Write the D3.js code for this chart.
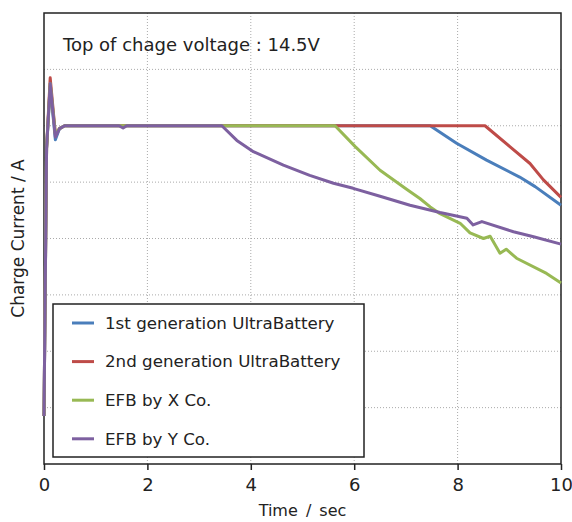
<!DOCTYPE html>
<html>
<head>
<meta charset="utf-8">
<script src="https://cdn.jsdelivr.net/npm/d3@7"></script>
<style>
  body { margin: 0; background: #fff; }
  svg text { font-family: "DejaVu Sans", sans-serif; fill: #222; }
</style>
</head>
<body>
<svg id="chart"></svg>
<script>
var seriesNames = ["1st generation UltraBattery", "2nd generation UltraBattery", "EFB by X Co.", "EFB by Y Co."];
var seriesColors = ["#4a7ebb", "#be4b48", "#98b954", "#7d60a0"];

var xTicks = [0, 2, 4, 6, 8, 10];
var yGrid = [1, 2, 3, 4, 5, 6, 7];

// time (sec) / current
var gen1Time = [0, 0.05, 0.12, 0.22, 0.3, 0.4, 7.47, 7.98, 8.56, 9.2, 9.5, 10];
var gen1Current = [0.85, 5.6, 6.7, 5.75, 5.95, 6, 6, 5.69, 5.39, 5.09, 4.92, 4.59];

var gen2Time = [0, 0.05, 0.12, 0.22, 0.3, 0.4, 8.53, 9.01, 9.4, 9.66, 10];
var gen2Current = [0.85, 5.6, 6.85, 5.85, 5.95, 6, 6, 5.63, 5.33, 5.04, 4.73];

var efbXTime = [0, 0.05, 0.12, 0.22, 0.3, 0.4, 5.63, 6.02, 6.5, 7.02, 7.27, 7.47, 7.66, 8.05, 8.24, 8.5, 8.63, 8.82, 8.94, 9.14, 9.72, 10];
var efbXCurrent = [0.85, 5.6, 6.75, 5.85, 5.95, 6, 6, 5.63, 5.21, 4.87, 4.71, 4.56, 4.44, 4.27, 4.1, 4.0, 4.04, 3.74, 3.81, 3.65, 3.38, 3.21];

var efbYTime = [0, 0.05, 0.12, 0.22, 0.3, 0.4, 1.45, 1.53, 1.6, 3.44, 3.73, 4.05, 4.63, 5.14, 5.6, 5.98, 6.5, 7.08, 7.66, 8.18, 8.3, 8.47, 9.08, 9.47, 10];
var efbYCurrent = [0.85, 5.6, 6.75, 5.8, 5.95, 6, 6, 5.96, 6, 6, 5.74, 5.54, 5.3, 5.12, 4.98, 4.89, 4.75, 4.59, 4.46, 4.36, 4.24, 4.3, 4.12, 4.03, 3.9];

var allTime = [gen1Time, gen2Time, efbXTime, efbYTime];
var allCurrent = [gen1Current, gen2Current, efbXCurrent, efbYCurrent];

var W = 572, H = 522;
var margin = { top: 13, right: 11, bottom: 58, left: 44 };
var width = W - margin.left - margin.right,
    height = H - margin.top - margin.bottom;

var svg = d3.select("#chart").attr("width", W).attr("height", H);
var g = svg.append("g").attr("transform", "translate(" + margin.left + "," + margin.top + ")");

var x = d3.scaleLinear().domain([0, 10]).range([0, width]);
var y = d3.scaleLinear().domain([0, 8]).range([height, 0]);

// grid
g.selectAll(".vgrid").data(xTicks.slice(1, -1)).enter().append("line")
    .attr("x1", d => x(d)).attr("x2", d => x(d))
    .attr("y1", 0).attr("y2", height)
    .attr("stroke", "#aaa").attr("stroke-dasharray", "1,2");
g.selectAll(".hgrid").data(yGrid).enter().append("line")
    .attr("x1", 0).attr("x2", width)
    .attr("y1", d => y(d)).attr("y2", d => y(d))
    .attr("stroke", "#aaa").attr("stroke-dasharray", "1,2");

// x axis
var xAxis = d3.axisBottom(x).tickValues(xTicks).tickSize(6).tickPadding(8).tickFormat(d3.format("d"));
var xg = g.append("g").attr("transform", "translate(0," + height + ")").call(xAxis);
xg.select(".domain").remove();
xg.selectAll(".tick line").attr("stroke", "#222").attr("stroke-width", 1.5);
xg.selectAll(".tick text").style("font-size", "18px").style("font-family", "'DejaVu Sans', sans-serif").attr("fill", "#222");

// frame
g.append("rect").attr("width", width).attr("height", height)
    .attr("fill", "none").attr("stroke", "#222").attr("stroke-width", 1.5);

// annotation
g.append("text").attr("x", 19).attr("y", 38).style("font-size", "18px")
    .text("Top of chage voltage : 14.5V");

// lines
var line = d3.line().x(d => x(d[0])).y(d => y(d[1]));
[0, 1, 2, 3].forEach(function(i) {
    var pts = allTime[i].map((t, j) => [t, allCurrent[i][j]]);
    g.append("path").datum(pts)
        .attr("d", line)
        .attr("fill", "none")
        .attr("stroke", seriesColors[i])
        .attr("stroke-width", 3)
        .attr("stroke-linejoin", "round");
});

// legend
var lg = g.append("g").attr("transform", "translate(9,291)");
lg.append("rect").attr("width", 311).attr("height", 153)
    .attr("fill", "#fff").attr("stroke", "#222").attr("stroke-width", 1.5);
seriesNames.forEach(function(name, i) {
    var yy = 19 + i * 38.6;
    lg.append("line").attr("x1", 19).attr("x2", 41).attr("y1", yy).attr("y2", yy)
        .attr("stroke", seriesColors[i]).attr("stroke-width", 3);
    lg.append("text").attr("x", 52).attr("y", yy).attr("dy", "0.35em")
        .style("font-size", "16.7px").text(name);
});

// axis titles
svg.append("text").attr("x", margin.left + width / 2).attr("y", 516)
    .attr("text-anchor", "middle").style("font-size", "16px").attr("word-spacing", "3px").text("Time / sec");
svg.append("text").attr("transform", "translate(24," + (margin.top + height / 2) + ") rotate(-90)")
    .attr("text-anchor", "middle").style("font-size", "17px").text("Charge Current / A");
</script>
</body>
</html>
